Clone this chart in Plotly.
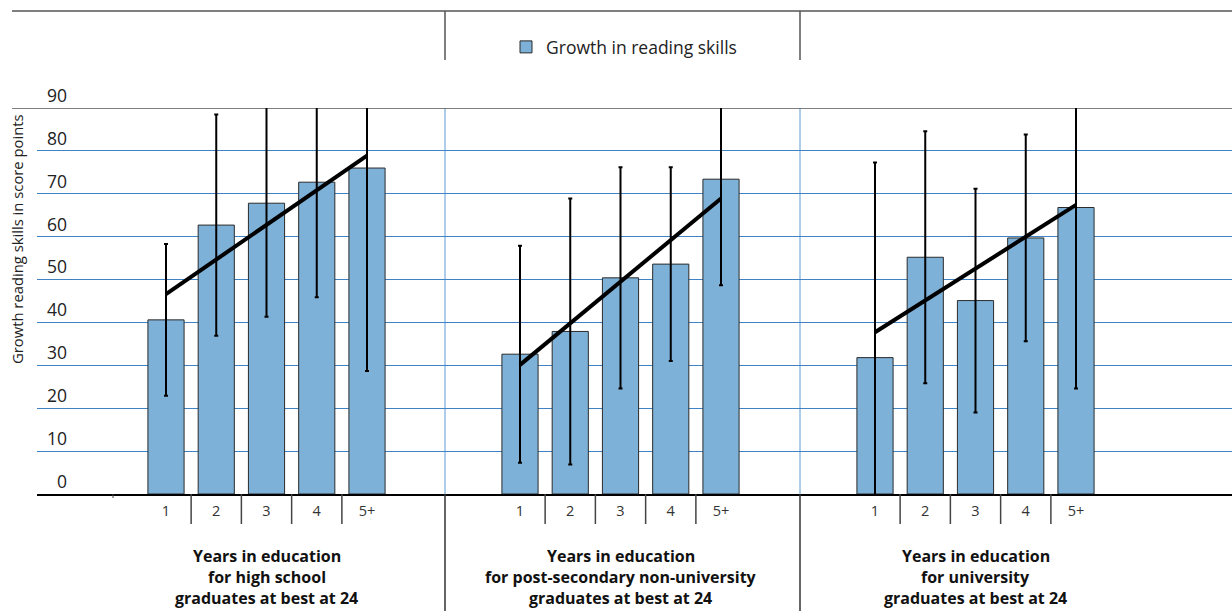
import plotly.graph_objects as go

W, H = 1232, 611

# ---------------- data ----------------
categories = ["1", "2", "3", "4", "5+"]
panel_titles = [
    ["Years in education", "for high school", "graduates at best at 24"],
    ["Years in education", "for post-secondary non-university", "graduates at best at 24"],
    ["Years in education", "for university", "graduates at best at 24"],
]
hs_growth = [40.6, 62.7, 67.8, 72.7, 76.0]
hs_err = [17.7, 25.8, 26.5, 26.8, 47.3]
hs_trend = [46.6, 78.9]

psn_growth = [32.6, 37.9, 50.4, 53.6, 73.4]
psn_err = [25.3, 31.0, 25.8, 22.6, 24.7]
psn_trend = [30.1, 68.9]

uni_growth = [31.8, 55.2, 45.1, 59.7, 66.8]
uni_err = [45.5, 29.4, 26.1, 24.1, 42.2]
uni_trend = [37.7, 67.4]

y_ticks = [0, 10, 20, 30, 40, 50, 60, 70, 80, 90]
legend_label = "Growth in reading skills"
y_title = "Growth reading skills in score points"

# ---------------- layout helpers ----------------
FONT = "Open Sans"
BAR_FILL = "#7EB1D7"
GRID = "#3F83C4"


def px(x):
    return x / W


def py(y):
    return (H - y) / H


UNIT = 50.25
panels = [
    dict(xa="x", dom=(37, 445), first=166, growth=hs_growth, err=hs_err, trend=hs_trend),
    dict(xa="x2", dom=(445, 800), first=520, growth=psn_growth, err=psn_err, trend=psn_trend),
    dict(xa="x3", dom=(800, 1232), first=875, growth=uni_growth, err=uni_err, trend=uni_trend),
]

fig = go.Figure()
for i, p in enumerate(panels):
    fig.add_trace(go.Bar(
        x=categories, y=p["growth"], xaxis=p["xa"], yaxis="y",
        name=legend_label, showlegend=(i == 0), width=0.72,
        marker=dict(color=BAR_FILL, line=dict(color="#2b2b2b", width=1)),
        error_y=dict(type="data", array=p["err"], visible=True,
                     color="black", thickness=2, width=2),
        hoverinfo="skip",
    ))
    fig.add_trace(go.Scatter(
        x=[categories[0], categories[-1]], y=p["trend"], xaxis=p["xa"], yaxis="y",
        mode="lines", line=dict(color="black", width=4), showlegend=False,
        hoverinfo="skip",
    ))

layout = dict(
    width=W, height=H, margin=dict(l=0, r=0, t=0, b=0, autoexpand=False),
    paper_bgcolor="white", plot_bgcolor="white",
    font=dict(family=FONT, color="#222"),
    showlegend=True,
    legend=dict(orientation="h", x=px(506), xanchor="left", y=py(47), yanchor="middle",
                font=dict(size=17.5, color="#222"), bgcolor="rgba(0,0,0,0)"),
    yaxis=dict(range=[0, 90], domain=[py(494), py(108)], anchor="free", position=px(67),
               tickvals=y_ticks, ticklabelposition="outside top", ticks="",
               showgrid=True, gridcolor=GRID, gridwidth=1, zeroline=False, showline=False,
               automargin=False, tickfont=dict(size=17.5, color="#222")),
)
for j, p in enumerate(panels):
    key = "xaxis" if j == 0 else "xaxis%d" % (j + 1)
    x0, x1 = p["dom"]
    layout[key] = dict(
        domain=[px(x0), px(x1)], anchor="y", type="category",
        range=[(x0 - p["first"]) / UNIT, (x1 - p["first"]) / UNIT],
        showline=True, linecolor="black", linewidth=1.5, showgrid=False, zeroline=False,
        automargin=False, ticks="", tickfont=dict(size=14.5, color="#333"), ticklabelstandoff=3,
    )
fig.update_layout(**layout)

shapes = []
# header lines
shapes.append(dict(type="line", xref="paper", yref="paper", x0=px(12), x1=1, y0=py(11), y1=py(11),
                   line=dict(color="#555", width=1.5)))
for xv in (445, 800):
    shapes.append(dict(type="line", xref="paper", yref="paper", x0=px(xv), x1=px(xv),
                       y0=py(11), y1=py(60), line=dict(color="#555", width=1.5)))
    # blue separator within plot area
    shapes.append(dict(type="line", xref="paper", yref="y", x0=px(xv), x1=px(xv), y0=0, y1=90,
                       line=dict(color="#5B9BD5", width=1), layer="between"))
    # black separator below axis
    shapes.append(dict(type="line", xref="paper", yref="paper", x0=px(xv), x1=px(xv),
                       y0=0, y1=py(494), line=dict(color="#333", width=1.5)))
# gray top frame line at 90
shapes.append(dict(type="line", xref="paper", yref="y", x0=px(12), x1=1, y0=90, y1=90,
                   line=dict(color="#555", width=1.5), layer="between"))
# category dividers below axis
for p in panels:
    for k in range(len(categories) - 1):
        shapes.append(dict(type="line", xref=p["xa"], yref="paper", x0=k + 0.5, x1=k + 0.5,
                           y0=py(524), y1=py(494), line=dict(color="#444", width=1.5)))
# tiny tick mark on axis
shapes.append(dict(type="line", xref="paper", yref="paper", x0=px(113), x1=px(113),
                   y0=py(498), y1=py(494), line=dict(color="#444", width=1)))
fig.update_layout(shapes=shapes)

annotations = []
line_centers = [556, 577, 598]
for p, lines in zip(panels, panel_titles):
    for yc, t in zip(line_centers, lines):
        annotations.append(dict(text="<b>" + t + "</b>",
                                xref=p["xa"], yref="paper", x=2, y=py(yc),
                                xanchor="center", yanchor="middle", showarrow=False,
                                font=dict(size=16, color="#111", family=FONT)))
annotations.append(dict(text=y_title, textangle=-90, xref="paper", yref="paper",
                        x=px(17), y=py(239), xanchor="center", yanchor="middle",
                        showarrow=False, font=dict(size=14.8, color="#222", family=FONT)))
fig.update_layout(annotations=annotations)

fig.write_html("out.html")
